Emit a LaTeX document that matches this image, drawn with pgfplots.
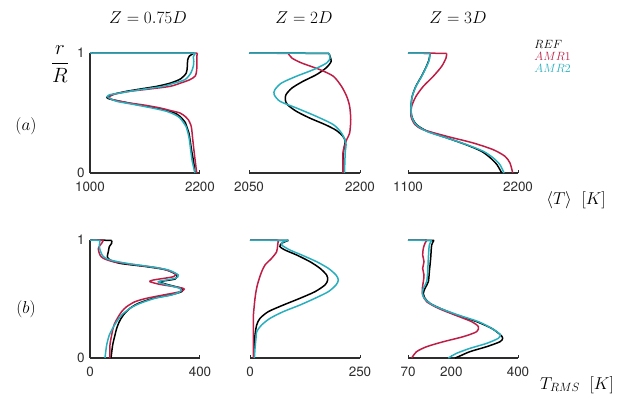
\documentclass[border=0pt]{standalone}
\usepackage{fontspec}
\usepackage{pgfplots}
\pgfplotsset{compat=1.18}
\newfontfamily\tickfont{TeX Gyre Heros}
\definecolor{amra}{RGB}{190,30,70}
\definecolor{amrb}{RGB}{40,175,190}
\definecolor{axc}{RGB}{45,45,45}
\pgfplotsset{
 panel/.style={scale only axis, width=110bp, ymin=0, ymax=1, enlargelimits=false, clip=false,
   axis x line=bottom, axis line style={-, line width=1.1bp, draw=axc},
   xtick align=inside, major tick length=3bp, tick style={line width=1bp, draw=axc},
   tick label style={font=\tickfont\fontsize{13.5}{14}\selectfont, text=axc},
   xticklabel style={yshift=-5bp},
   every axis plot/.append style={line width=1.5bp, smooth, tension=0.45},
 },
 rowa/.style={height=120bp},
 rowb/.style={height=118bp},
 firstcol/.style={axis y line=left, ytick={0,1}, yticklabels={0,1}, ytick align=inside, yticklabel style={xshift=-2bp},
   y axis line style={-}, every outer y axis line/.style={-, line width=1.1bp, draw=axc}},
 othercol/.style={axis y line=none, ytick=\empty},
 topseg/.style={sharp plot, forget plot},
}
\begin{document}
\begin{tikzpicture}
\path[use as bounding box] (0,0) rectangle (619bp,406bp);
% ---------- row (a) ----------
\begin{axis}[panel, rowa, firstcol, at={(90bp,233bp)}, anchor=south west,
  xmin=1000, xmax=2200, xtick={1000,2200}, xticklabels={1000,2200}]
\addplot[black, topseg] coordinates {(1000,1) (2135,0.998)};
\addplot[black] coordinates {(2135,0.998) (2085,0.975) (2065,0.94) (2062,0.889) (2050,0.833) (1990,0.785) (1880,0.75) (1727,0.722) (1550,0.70) (1400,0.681) (1250,0.655) (1190,0.635) (1200,0.62) (1327,0.597) (1470,0.576) (1618,0.556) (1760,0.535) (1873,0.514) (1950,0.49) (2000,0.458) (2040,0.42) (2055,0.389) (2080,0.33) (2091,0.278) (2110,0.18) (2120,0.139) (2135,0.07) (2145,0)};
\addplot[amra, topseg] coordinates {(1000,1) (2172,0.998)};
\addplot[amra] coordinates {(2172,0.998) (2165,0.97) (2167,0.92) (2164,0.86) (2150,0.81) (2091,0.778) (1990,0.75) (1873,0.722) (1650,0.70) (1436,0.681) (1280,0.66) (1218,0.639) (1210,0.625) (1250,0.61) (1436,0.583) (1600,0.565) (1764,0.542) (1880,0.52) (1982,0.50) (2040,0.47) (2073,0.444) (2100,0.40) (2110,0.361) (2125,0.25) (2140,0.15) (2164,0)};
\addplot[amrb, topseg] coordinates {(1000,1) (2150,0.998)};
\addplot[amrb] coordinates {(2150,0.998) (2128,0.97) (2132,0.93) (2127,0.889) (2100,0.833) (2036,0.778) (1900,0.745) (1796,0.722) (1600,0.70) (1436,0.681) (1280,0.66) (1218,0.653) (1189,0.639) (1220,0.62) (1291,0.597) (1450,0.575) (1582,0.556) (1720,0.535) (1836,0.514) (1930,0.485) (1982,0.458) (2020,0.42) (2047,0.389) (2070,0.33) (2084,0.278) (2100,0.18) (2115,0.1) (2145,0)};
\end{axis}
\begin{axis}[panel, rowa, othercol, at={(249bp,233bp)}, anchor=south west, width=111bp,
  xmin=2050, xmax=2200, xtick={2050,2200}, xticklabels={2050,2200}]
\addplot[black, topseg] coordinates {(2050,1) (2158,0.997)};
\addplot[black] coordinates {(2158,0.997) (2161,0.931) (2154,0.875) (2141,0.819) (2123,0.764) (2108,0.708) (2100,0.653) (2099,0.611) (2102,0.569) (2114,0.514) (2132,0.458) (2153,0.403) (2168,0.355) (2177,0.305) (2180,0.264) (2178,0.194) (2177,0.111) (2177,0)};
\addplot[amra, topseg] coordinates {(2050,1) (2103,0.997)};
\addplot[amra] coordinates {(2103,0.997) (2108,0.958) (2121,0.917) (2146,0.861) (2164,0.806) (2175,0.722) (2182,0.639) (2186,0.556) (2187.5,0.444) (2186,0.333) (2182,0.278) (2179,0.222) (2177,0.167) (2177,0)};
\addplot[amrb, topseg] coordinates {(2050,1) (2158,0.997)};
\addplot[amrb] coordinates {(2158,0.997) (2159.5,0.958) (2155,0.917) (2137,0.861) (2114,0.806) (2094,0.75) (2085,0.694) (2084,0.653) (2092,0.597) (2114,0.542) (2141,0.472) (2164,0.403) (2175,0.333) (2181,0.25) (2180,0.167) (2179,0)};
\end{axis}
\begin{axis}[panel, rowa, othercol, at={(408bp,233bp)}, anchor=south west,
  xmin=1100, xmax=2200, xtick={1100,2200}, xticklabels={1100,2200},
  legend style={at={(1.13,1.12)}, anchor=north west, draw=none, fill=none,
    font=\fontsize{11.5}{12}\selectfont, row sep=-2pt, inner sep=0pt, cells={anchor=west}},
  legend image code/.code={},
  legend entries={{\color{black}$REF$},{\color{amra}$AMR1$},{\color{amrb}$AMR2$}}]
\addplot[black, topseg] coordinates {(1100,1) (1320,0.997)};
\addplot[black] coordinates {(1320,0.997) (1310,0.944) (1284,0.889) (1235,0.806) (1178,0.722) (1142,0.639) (1130,0.556) (1138,0.472) (1185,0.403) (1295,0.347) (1490,0.292) (1680,0.236) (1835,0.181) (1925,0.125) (1990,0.069) (2037,0)};
\addplot[amra, topseg] coordinates {(1100,1) (1487,0.997)};
\addplot[amra] coordinates {(1487,0.997) (1480,0.958) (1437,0.889) (1353,0.806) (1253,0.722) (1180,0.639) (1137,0.556) (1130,0.472) (1170,0.403) (1253,0.361) (1487,0.306) (1753,0.25) (1953,0.194) (2070,0.139) (2120,0.083) (2147,0)};
\addplot[amrb, topseg] coordinates {(1100,1) (1320,0.997)};
\addplot[amrb] coordinates {(1320,0.997) (1313,0.944) (1287,0.889) (1237,0.806) (1180,0.722) (1143,0.639) (1130,0.556) (1137,0.472) (1180,0.403) (1287,0.347) (1487,0.292) (1687,0.236) (1853,0.181) (1953,0.125) (2020,0.069) (2060,0)};
\end{axis}
% ---------- row (b) ----------
\begin{axis}[panel, rowb, firstcol, at={(90bp,48bp)}, anchor=south west,
  xmin=0, xmax=400, xtick={0,400}, xticklabels={0,400}]
\addplot[black, topseg] coordinates {(0,1) (78.8,0.997)};
\addplot[black] coordinates {(78.8,0.997) (78.8,0.972) (70.3,0.944) (66.7,0.901) (63,0.859) (72.7,0.831) (109,0.802) (206,0.774) (278.8,0.746) (315.1,0.703) (309,0.669) (254.5,0.647) (278.8,0.624) (333.3,0.590) (333.3,0.562) (290.9,0.534) (230.3,0.506) (175.7,0.463) (145.4,0.421) (121.2,0.364) (106.6,0.308) (97,0.251) (90.9,0.195) (82.4,0.110) (76.4,0)};
\addplot[amra, topseg] coordinates {(0,1) (48.5,0.997)};
\addplot[amra] coordinates {(48.5,0.997) (42.4,0.972) (30.3,0.930) (36.4,0.873) (48.5,0.845) (84.8,0.816) (169.7,0.788) (254.5,0.760) (309,0.718) (303,0.689) (230.3,0.661) (218.1,0.647) (254.5,0.624) (339.3,0.590) (327.2,0.562) (266.6,0.534) (206,0.506) (163.6,0.477) (133.3,0.435) (115.1,0.393) (99.4,0.336) (87.3,0.280) (78.8,0.195) (72.7,0.110) (72.7,0)};
\addplot[amrb, topseg] coordinates {(0,1) (36.4,0.997)};
\addplot[amrb] coordinates {(36.4,0.997) (33.9,0.944) (38.8,0.901) (48.5,0.859) (72.7,0.831) (133.3,0.802) (218.1,0.774) (284.8,0.746) (321.2,0.703) (309,0.675) (248.4,0.647) (272.7,0.624) (327.2,0.590) (327.2,0.562) (297,0.534) (236.3,0.506) (181.8,0.463) (145.4,0.421) (115.1,0.364) (97,0.308) (82.4,0.251) (70.3,0.195) (60.6,0.110) (54.5,0)};
\end{axis}
\begin{axis}[panel, rowb, othercol, at={(250bp,48bp)}, anchor=south west,
  xmin=0, xmax=250, xtick={0,250}, xticklabels={0,250}]
\addplot[black, topseg] coordinates {(0,1) (87,0.997)};
\addplot[black] coordinates {(87,0.997) (72,0.972) (68,0.944) (79.5,0.915) (106,0.873) (136.4,0.816) (159.1,0.760) (174.2,0.703) (176.5,0.661) (170.5,0.619) (147.7,0.562) (113.6,0.506) (75.8,0.449) (41.7,0.393) (22.7,0.336) (15.2,0.280) (11.4,0.195) (9.1,0.082) (9.1,0)};
\addplot[amra, topseg] coordinates {(0,1) (64.4,0.997)};
\addplot[amra] coordinates {(64.4,0.997) (62.9,0.958) (60.6,0.901) (49.2,0.845) (34.1,0.788) (26.5,0.731) (21.2,0.675) (16.7,0.619) (13.6,0.562) (11.4,0.506) (9.1,0.421) (7.6,0.336) (7.6,0)};
\addplot[amrb, topseg] coordinates {(0,1) (87,0.997)};
\addplot[amrb] coordinates {(87,0.997) (75.8,0.986) (72,0.958) (90.9,0.915) (117.4,0.873) (151.5,0.816) (178,0.760) (195.5,0.703) (200.8,0.661) (195.5,0.619) (178,0.562) (147.7,0.506) (113.6,0.449) (75.8,0.393) (45.5,0.336) (26.5,0.280) (15.2,0.223) (13.6,0.167) (11.4,0.082) (10,0)};
\end{axis}
\begin{axis}[panel, rowb, othercol, at={(408bp,48bp)}, anchor=south west,
  xmin=70, xmax=400, xtick={70,200,400}, xticklabels={70,200,400}]
\addplot[black, topseg] coordinates {(70,1) (148,0.997)};
\addplot[black] coordinates {(148,0.997) (141,0.958) (138,0.845) (134,0.731) (131,0.647) (121,0.590) (116,0.548) (121,0.506) (136,0.463) (166,0.421) (216,0.364) (276,0.308) (321,0.251) (348,0.195) (354,0.167) (346,0.138) (306,0.096) (256,0.054) (221,0.011) (211,0)};
\addplot[amra, topseg] coordinates {(70,1) (126,0.997)};
\addplot[amra] coordinates {(126,0.997) (121,0.972) (116,0.930) (114,0.873) (118,0.816) (114,0.760) (118,0.703) (116,0.647) (113,0.590) (114,0.534) (126,0.477) (161,0.421) (211,0.364) (261,0.308) (281,0.266) (276,0.223) (236,0.181) (176,0.138) (126,0.096) (96,0.054) (81,0)};
\addplot[amrb, topseg] coordinates {(70,1) (141,0.997)};
\addplot[amrb] coordinates {(141,0.997) (134,0.958) (131,0.845) (129,0.731) (126,0.647) (116,0.590) (113,0.548) (119,0.506) (136,0.463) (166,0.421) (221,0.364) (281,0.308) (321,0.251) (346,0.201) (341,0.167) (306,0.124) (256,0.082) (216,0.040) (191,0)};
\end{axis}
% ---------- labels ----------
\begin{scope}[every node/.style={font=\fontsize{17}{20}\selectfont, inner sep=0pt}]
\node at (148bp,388bp) {$Z = 0.75D$};
\node at (304bp,388bp) {$Z = 2D$};
\node at (458bp,388bp) {$Z = 3D$};
\node[font=\fontsize{20}{24}\selectfont] at (60bp,342bp) {$\displaystyle\frac{r}{R}$};
\node[font=\fontsize{19}{22}\selectfont] at (26bp,280bp) {$(a)$};
\node[font=\fontsize{19}{22}\selectfont] at (26bp,97bp) {$(b)$};
\node at (576bp,206bp) {$\langle T\rangle\;\;[K]$};
\node at (577bp,21bp) {$T_{RMS}\;\;[K]$};
\end{scope}
\end{tikzpicture}
\end{document}
